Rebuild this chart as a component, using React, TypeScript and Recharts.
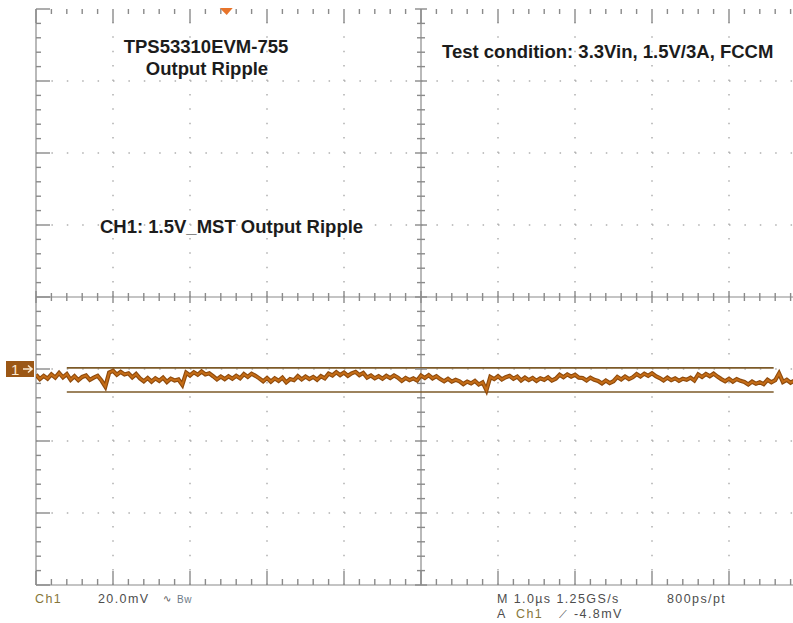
import React from 'react';
import { ComposedChart, Line, XAxis, YAxis, ReferenceLine, ReferenceDot } from 'recharts';

// time axis: 1.0 µs / div, 10 divisions
const timeDivisions = [0, 1, 2, 3, 4, 5, 6, 7, 8, 9, 10];
// vertical axis: 20.0 mV / div, 8 divisions (screen centre = 0 mV)
const voltDivisions = [-80, -60, -40, -20, 0, 20, 40, 60, 80];
const sampleStepUs = 0.05;

// CH1 output ripple (mV), one sample every 0.05 µs
const ch1Ripple = [
  -21.6, -22.8, -21.9, -22.7, -21.5, -22.4, -21.1, -22.3, -21.4, -23.0,
  -22.0, -23.1, -22.2, -21.8, -23.0, -22.4, -21.9, -23.2, -24.9, -21.0,
  -20.5, -21.6, -20.8, -21.5, -21.2, -22.3, -21.4, -22.6, -23.4, -22.5,
  -23.5, -22.6, -23.3, -22.4, -23.6, -22.7, -23.2, -22.9, -24.4, -21.0,
  -21.8, -20.9, -21.6, -20.7, -21.5, -21.2, -22.0, -22.9, -22.1, -22.8,
  -22.0, -22.7, -21.9, -22.6, -21.4, -22.2, -21.3, -21.9, -22.6, -23.4,
  -22.5, -23.5, -22.6, -23.3, -22.4, -23.7, -22.8, -23.1, -22.0, -22.9,
  -22.1, -22.8, -22.2, -23.0, -22.0, -22.6, -21.3, -21.8, -20.9, -21.7,
  -21.0, -21.9, -21.2, -20.8, -21.7, -21.1, -22.4, -21.8, -22.6, -22.0,
  -22.7, -21.9, -22.5, -21.8, -22.4, -23.3, -22.5, -23.1, -22.6, -23.2,
  -21.8, -22.5, -21.7, -22.6, -22.0, -22.8, -23.4, -22.7, -23.5, -23.0,
  -23.4, -24.2, -23.5, -24.0, -23.3, -24.3, -23.7, -25.9, -22.2, -22.8,
  -22.0, -22.9, -22.3, -21.9, -22.7, -22.1, -23.2, -22.4, -23.1, -22.5,
  -23.3, -22.6, -23.0, -22.3, -23.2, -22.7, -21.6, -22.3, -21.5, -22.1,
  -21.6, -22.4, -22.5, -23.2, -22.4, -23.0, -23.3, -24.0, -23.2, -23.9,
  -23.4, -22.2, -22.9, -22.1, -22.8, -22.3, -21.4, -22.1, -21.3, -21.9,
  -21.2, -22.0, -22.5, -23.2, -22.4, -23.1, -22.6, -23.3, -22.7, -23.0,
  -22.4, -23.2, -21.5, -22.2, -21.4, -22.0, -21.3, -22.1, -22.8, -23.4,
  -22.7, -23.5, -22.8, -23.3, -23.6, -24.3, -23.5, -24.1, -23.7, -24.2,
  -23.0, -23.7, -23.1, -21.2, -23.6, -23.0, -23.8, -23.2, -23.5, -22.9, -23.4,
];

// horizontal cursors (mV) and their span (µs)
const cursorLevels = [-19.7, -26.4];
const cursorSpan = [0.4, 9.58];
const triggerTime = 2.47;

const data = ch1Ripple.map((v, i) => ({ t: +(i * sampleStepUs).toFixed(2), v }));

const subT = [0, 0.2, 0.4, 0.6, 0.8];
const subV = [0, 4, 8, 12, 16];
const minorTimes = timeDivisions.slice(0, -1).flatMap((t) => subT.map((f) => +(t + f).toFixed(2))).concat([10]);
const minorVolts = voltDivisions.slice(0, -1).flatMap((v) => subV.map((f) => v + f)).concat([80]);

const tMin = timeDivisions[0];
const tMax = timeDivisions[timeDivisions.length - 1];
const vMin = voltDivisions[0];
const vMax = voltDivisions[voltDivisions.length - 1];
const tMid = (tMin + tMax) / 2;

// chart geometry shared by the chart margins and the graticule tick overlay
const CHART_W = 820;
const CHART_H = 623;
const MARGIN = { top: 9, right: 14, bottom: 38, left: 36 };
const PLOT_W = CHART_W - MARGIN.left - MARGIN.right;
const PLOT_H = CHART_H - MARGIN.top - MARGIN.bottom;

function scaleT(t: number): number {
  return MARGIN.left + ((t - tMin) / (tMax - tMin)) * PLOT_W;
}
function scaleV(v: number): number {
  return MARGIN.top + ((vMax - v) / (vMax - vMin)) * PLOT_H;
}
function majorT(t: number): boolean {
  return Math.abs(t - Math.round(t)) < 0.001;
}
function majorV(v: number): boolean {
  return Math.abs(v / 20 - Math.round(v / 20)) < 0.001;
}

const GRAT = '#8a8a8a';
const DOT = '#b0b0b0';
const TRACE_DARK = '#8e4a0c';
const TRACE = '#c46c16';
const CURSOR = '#7c5a28';
const FONT = 'Liberation Sans, Arial, sans-serif';

function GraticuleTicks() {
  const yBottom = scaleV(vMin);
  const yTop = scaleV(vMax);
  const yMid = scaleV(0);
  const xLeft = scaleT(tMin);
  const xMid = scaleT(tMid);
  return (
    <g>
      {minorTimes.map((t) => {
        const x = scaleT(t);
        const big = majorT(t);
        const c = big ? 6 : 4;
        return (
          <g key={'tt' + t}>
            <line x1={x} y1={yBottom} x2={x} y2={yBottom - (big ? 14 : 6)} stroke={GRAT} strokeWidth={1.4} />
            <line x1={x} y1={yTop} x2={x} y2={yTop + (big ? 14 : 5)} stroke={GRAT} strokeWidth={1.4} />
            <line x1={x} y1={yMid - c} x2={x} y2={yMid + c} stroke={GRAT} strokeWidth={1.4} />
          </g>
        );
      })}
      {minorVolts.map((v) => {
        const y = scaleV(v);
        const big = majorV(v);
        const c = big ? 6 : 4;
        return (
          <g key={'vv' + v}>
            <line x1={xLeft} y1={y} x2={xLeft + (big ? 14 : 5)} y2={y} stroke={GRAT} strokeWidth={1.4} />
            <line x1={xMid - c} y1={y} x2={xMid + c} y2={y} stroke={GRAT} strokeWidth={1.4} />
          </g>
        );
      })}
    </g>
  );
}

export default function App() {
  return (
    <div style={{ position: 'fixed', left: 0, top: 0, width: 793, height: 623, overflow: 'hidden', background: '#fff' }}>
      <div style={{ position: 'absolute', left: 0, top: 0 }}>
        <ComposedChart width={CHART_W} height={CHART_H} data={data} margin={MARGIN}>
          <XAxis dataKey="t" type="number" domain={[tMin, tMax]} ticks={timeDivisions} hide allowDataOverflow />
          <YAxis dataKey="v" type="number" domain={[vMin, vMax]} ticks={voltDivisions} hide allowDataOverflow />

          {/* dotted graticule */}
          {timeDivisions.filter((t) => t !== tMin && t !== tMid && t !== tMax).map((t) => (
            <ReferenceLine key={'gx' + t} x={t} stroke={DOT} strokeWidth={1.5} strokeDasharray="1.5 12.9" />
          ))}
          {voltDivisions.filter((v) => v !== vMin && v !== 0 && v !== vMax).map((v) => (
            <ReferenceLine key={'gy' + v} y={v} stroke={DOT} strokeWidth={1.5} strokeDasharray="1.5 13.9" />
          ))}

          {/* solid frame and centre lines */}
          <ReferenceLine x={tMin} stroke={GRAT} strokeWidth={1.2} />
          <ReferenceLine x={tMid} stroke={GRAT} strokeWidth={1.2} />
          <ReferenceLine y={0} stroke={GRAT} strokeWidth={1.2} />
          <ReferenceLine y={vMin} stroke={GRAT} strokeWidth={1.2} />

          {/* cursors */}
          {cursorLevels.map((c) => (
            <ReferenceLine key={'cur' + c} segment={[{ x: cursorSpan[0], y: c }, { x: cursorSpan[1], y: c }]} stroke={CURSOR} strokeWidth={1.6} />
          ))}

          <Line dataKey="v" type="linear" stroke={TRACE_DARK} strokeWidth={4.2} strokeLinejoin="miter" dot={false} isAnimationActive={false} />
          <Line dataKey="v" type="linear" stroke={TRACE} strokeWidth={2} strokeLinejoin="miter" dot={false} isAnimationActive={false} />

          <ReferenceDot
            x={triggerTime}
            y={vMax}
            ifOverflow="visible"
            shape={(p: any) => (
              <polygon
                points={`${p.cx - 6.5},${p.cy - 1} ${p.cx + 6.5},${p.cy - 1} ${p.cx + 0.5},${p.cy + 6}`}
                fill="#e8742a"
              />
            )}
          />
        </ComposedChart>
      </div>

      <svg width={793} height={623} style={{ position: 'absolute', left: 0, top: 0, pointerEvents: 'none' }}>
        <GraticuleTicks />

        <g fontFamily={FONT} fontWeight="bold" fontSize={18.5} fill="#1c1c1c">
          <text x={206} y={53} textAnchor="middle">TPS53310EVM-755</text>
          <text x={207} y={75} textAnchor="middle">Output Ripple</text>
          <text x={442} y={58}>Test condition: 3.3Vin, 1.5V/3A, FCCM</text>
          <text x={100} y={233}>CH1: 1.5V_MST Output Ripple</text>
        </g>

        {/* channel 1 ground marker */}
        <rect x={6} y={361} width={28} height={16} fill="#9b5716" />
        <text x={11} y={375} fontFamily={FONT} fontSize={15} fill="#fbe9cf">1</text>
        <path d="M23,369 L31,369 M28,365.5 L32,369 L28,372.5" stroke="#fbe9cf" strokeWidth={1.6} fill="none" />

        <g fontFamily={FONT} fontSize={12.5} letterSpacing={1.4} fill="#4d4d4d">
          <text x={35} y={603} fill="#86763a">Ch1</text>
          <text x={98} y={603}>20.0mV</text>
          <text x={163} y={602} fontSize={10} letterSpacing={0}>∿</text>
          <text x={177} y={603} fontSize={10} letterSpacing={0.5} fill="#6c7a88">Bw</text>
          <text x={497} y={603}>M 1.0µs 1.25GS/s</text>
          <text x={667} y={603}>800ps/pt</text>
          <text x={497} y={618}>A</text>
          <text x={516} y={618} fill="#86763a">Ch1</text>
          <text x={559} y={618} fontSize={11} letterSpacing={0}>⟋</text>
          <text x={574} y={618}>-4.8mV</text>
        </g>
      </svg>
    </div>
  );
}
